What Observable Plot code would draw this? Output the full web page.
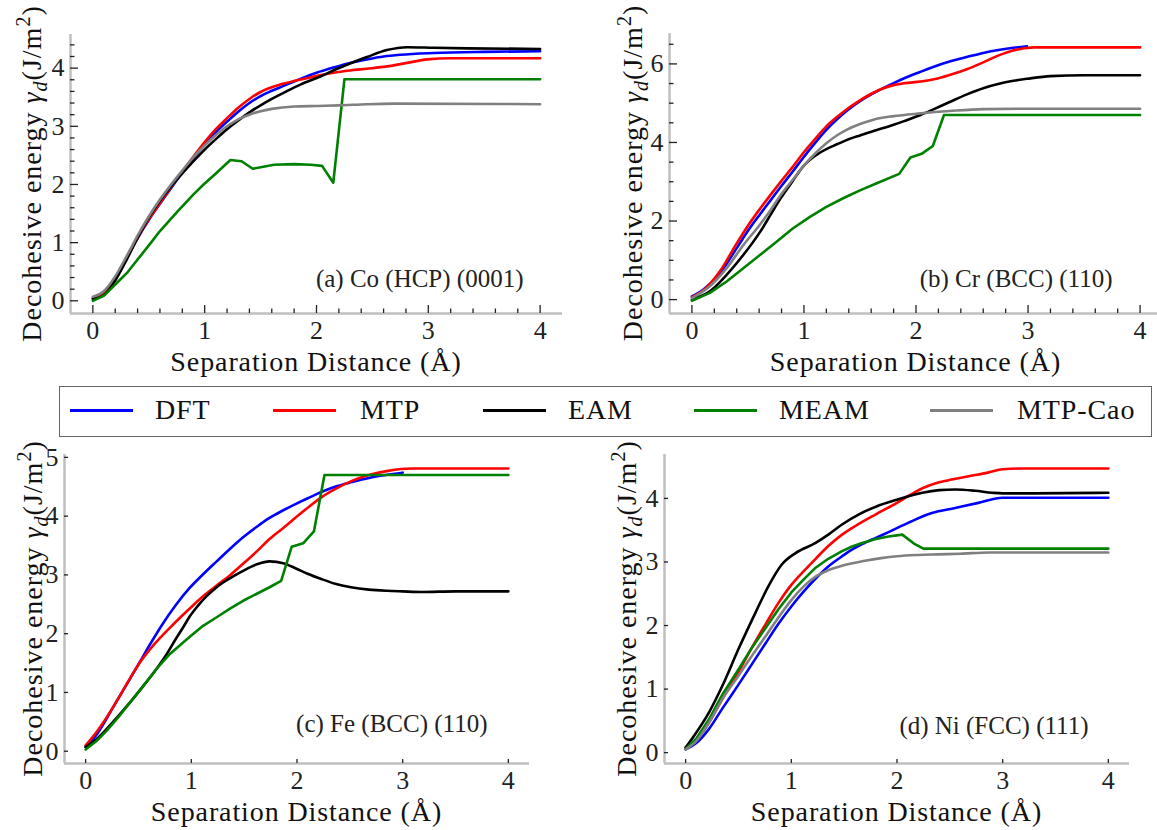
<!DOCTYPE html>
<html>
<head>
<meta charset="utf-8">
<script src="https://cdn.jsdelivr.net/npm/d3@7"></script>
<script src="https://cdn.jsdelivr.net/npm/@observablehq/plot@0.6"></script>
<style>
html, body { margin: 0; padding: 0; width: 1157px; height: 830px; overflow: hidden; background: #fff; }
body { position: relative; font-family: "Liberation Serif", "DejaVu Serif", serif; color: #111; }
.panel { position: absolute; }
.panel svg { max-width: none !important; display: block; }
#legend { position: absolute; left: 59px; top: 386px; width: 1093px; height: 51px; border: 1.5px solid #666; box-sizing: border-box; }
.lg-line { position: absolute; height: 3px; }
.lg-text { position: absolute; font-size: 28px; letter-spacing: 0.9px; line-height: 1; transform: translateY(-50%); white-space: nowrap; }
</style>
</head>
<body>
<div id="pa" class="panel" style="left:0px;top:0px;"></div>
<div id="pb" class="panel" style="left:580px;top:0px;"></div>
<div id="pc" class="panel" style="left:0px;top:380px;"></div>
<div id="pd" class="panel" style="left:580px;top:380px;"></div>
<div id="legend"></div>
<script>
// ---------------- data ----------------
const seriesNames = ["DFT", "MTP", "EAM", "MEAM", "MTP-Cao"];
const seriesColors = ["#0000ff", "#ff0000", "#000000", "#008000", "#808080"];
const xTicks = [0, 1, 2, 3, 4];
const xLabel = "Separation Distance (Å)";
const panelLabels = ["(a) Co (HCP) (0001)", "(b) Cr (BCC) (110)", "(c) Fe (BCC) (110)", "(d) Ni (FCC) (111)"];
const yTicksA = [0, 1, 2, 3, 4];
const yTicksB = [0, 2, 4, 6];
const yTicksC = [0, 1, 2, 3, 4, 5];
const yTicksD = [0, 1, 2, 3, 4];

// (a) Co (HCP) (0001)
const coDFT = [[0,0.05],[0.1,0.14],[0.2,0.4],[0.3,0.74],[0.4,1.08],[0.5,1.39],[0.6,1.67],[0.7,1.94],[0.8,2.2],[0.9,2.45],[1.0,2.69],[1.1,2.9],[1.2,3.08],[1.3,3.25],[1.4,3.4],[1.5,3.52],[1.6,3.61],[1.7,3.69],[1.8,3.77],[1.9,3.85],[2.0,3.92],[2.15,4.01],[2.3,4.09],[2.45,4.15],[2.6,4.2],[2.75,4.23],[3.05,4.26],[3.5,4.28],[4.0,4.29]];
const coMTP = [[0,0.04],[0.1,0.13],[0.2,0.38],[0.3,0.72],[0.4,1.08],[0.5,1.4],[0.6,1.68],[0.7,1.96],[0.8,2.22],[0.9,2.48],[1.0,2.73],[1.1,2.95],[1.2,3.14],[1.3,3.32],[1.4,3.47],[1.5,3.59],[1.6,3.67],[1.7,3.73],[1.8,3.78],[1.9,3.82],[2.04,3.88],[2.15,3.92],[2.3,3.96],[2.45,3.99],[2.63,4.03],[2.81,4.09],[2.99,4.15],[3.2,4.17],[4.0,4.17]];
const coEAM = [[0,0.03],[0.1,0.1],[0.2,0.35],[0.3,0.7],[0.4,1.08],[0.5,1.43],[0.6,1.72],[0.7,1.97],[0.8,2.19],[0.9,2.4],[1.0,2.6],[1.1,2.78],[1.2,2.95],[1.3,3.1],[1.4,3.24],[1.5,3.36],[1.6,3.47],[1.74,3.61],[1.86,3.72],[2.04,3.86],[2.15,3.96],[2.3,4.08],[2.45,4.19],[2.63,4.31],[2.81,4.36],[3.05,4.35],[3.35,4.34],[4.0,4.33]];
const coMEAM = [[0,0.0],[0.1,0.09],[0.2,0.28],[0.31,0.49],[0.4,0.71],[0.52,1.0],[0.6,1.2],[0.76,1.54],[0.9,1.83],[0.99,2.0],[1.1,2.19],[1.23,2.42],[1.33,2.4],[1.43,2.27],[1.62,2.34],[1.8,2.35],[1.95,2.34],[2.05,2.32],[2.15,2.03],[2.25,3.81],[4.0,3.81]];
const coCao = [[0,0.07],[0.1,0.17],[0.2,0.42],[0.3,0.76],[0.4,1.12],[0.5,1.45],[0.6,1.74],[0.7,2.0],[0.8,2.24],[0.9,2.47],[1.0,2.67],[1.1,2.85],[1.2,3.0],[1.3,3.12],[1.4,3.2],[1.5,3.26],[1.6,3.3],[1.8,3.34],[2.0,3.35],[2.2,3.36],[2.45,3.38],[2.7,3.39],[4.0,3.38]];

// (b) Cr (BCC) (110)
const crDFT = [[0,0.08],[0.1,0.25],[0.25,0.67],[0.4,1.31],[0.5,1.75],[0.61,2.18],[0.7,2.52],[0.79,2.86],[0.9,3.26],[0.99,3.6],[1.1,3.99],[1.2,4.32],[1.3,4.6],[1.38,4.8],[1.5,5.05],[1.65,5.3],[1.8,5.51],[1.9,5.64],[2.04,5.8],[2.16,5.93],[2.3,6.06],[2.46,6.18],[2.6,6.28],[2.75,6.36],[2.87,6.41],[2.99,6.45]];
const crMTP = [[0,0.06],[0.1,0.23],[0.25,0.72],[0.4,1.43],[0.5,1.88],[0.61,2.32],[0.7,2.66],[0.79,2.99],[0.9,3.38],[0.99,3.72],[1.1,4.09],[1.2,4.41],[1.3,4.66],[1.38,4.84],[1.5,5.07],[1.6,5.24],[1.68,5.35],[1.8,5.46],[1.9,5.51],[2.04,5.55],[2.16,5.61],[2.3,5.72],[2.46,5.87],[2.6,6.04],[2.75,6.23],[2.85,6.33],[2.93,6.38],[3.05,6.42],[4.0,6.42]];
const crEAM = [[0,0.0],[0.16,0.21],[0.31,0.63],[0.46,1.14],[0.61,1.73],[0.7,2.15],[0.79,2.57],[0.9,3.02],[0.99,3.38],[1.1,3.66],[1.2,3.83],[1.3,3.96],[1.38,4.06],[1.5,4.18],[1.62,4.29],[1.8,4.45],[1.9,4.55],[2.04,4.7],[2.16,4.85],[2.3,5.03],[2.46,5.23],[2.6,5.38],[2.75,5.5],[2.87,5.57],[2.99,5.62],[3.2,5.69],[3.5,5.71],[4.0,5.71]];
const crMEAM = [[0,-0.03],[0.16,0.17],[0.31,0.46],[0.45,0.78],[0.61,1.14],[0.75,1.46],[0.9,1.81],[1.05,2.1],[1.2,2.36],[1.35,2.58],[1.5,2.78],[1.65,2.96],[1.85,3.2],[1.95,3.62],[2.05,3.71],[2.15,3.91],[2.25,4.7],[4.0,4.7]];
const crCao = [[0,0.04],[0.16,0.34],[0.31,0.8],[0.46,1.39],[0.61,1.92],[0.7,2.27],[0.79,2.65],[0.9,3.05],[0.99,3.38],[1.1,3.72],[1.2,3.98],[1.3,4.19],[1.38,4.32],[1.5,4.47],[1.62,4.58],[1.8,4.67],[2.04,4.74],[2.3,4.8],[2.6,4.85],[3.0,4.86],[4.0,4.86]];

// (c) Fe (BCC) (110)
const feDFT = [[0,0.07],[0.1,0.27],[0.2,0.56],[0.29,0.84],[0.4,1.17],[0.51,1.51],[0.62,1.85],[0.73,2.17],[0.85,2.48],[0.98,2.77],[1.1,2.99],[1.24,3.23],[1.37,3.45],[1.49,3.64],[1.62,3.82],[1.74,3.97],[1.87,4.1],[1.99,4.21],[2.12,4.32],[2.23,4.41],[2.36,4.5],[2.52,4.58],[2.68,4.65],[2.84,4.7],[3.0,4.74]];
const feMTP = [[0,0.1],[0.1,0.32],[0.2,0.58],[0.29,0.84],[0.4,1.18],[0.51,1.5],[0.64,1.8],[0.83,2.16],[0.98,2.42],[1.1,2.62],[1.24,2.82],[1.37,3.0],[1.49,3.19],[1.62,3.4],[1.74,3.61],[1.87,3.8],[1.99,3.98],[2.12,4.17],[2.23,4.32],[2.36,4.46],[2.52,4.6],[2.68,4.7],[2.86,4.77],[3.08,4.81],[4.0,4.81]];
const feEAM = [[0,0.07],[0.1,0.2],[0.2,0.38],[0.31,0.6],[0.42,0.83],[0.55,1.12],[0.67,1.4],[0.77,1.66],[0.86,1.93],[0.93,2.13],[0.98,2.28],[1.06,2.47],[1.14,2.63],[1.22,2.76],[1.3,2.87],[1.4,2.98],[1.49,3.07],[1.62,3.18],[1.74,3.23],[1.87,3.2],[1.99,3.11],[2.1,3.02],[2.23,2.93],[2.36,2.85],[2.51,2.79],[2.68,2.75],[2.85,2.73],[3.0,2.72],[3.18,2.71],[3.5,2.72],[4.0,2.72]];
const feMEAM = [[0,0.03],[0.1,0.17],[0.2,0.35],[0.31,0.58],[0.42,0.83],[0.55,1.12],[0.67,1.4],[0.8,1.66],[0.98,1.94],[1.1,2.12],[1.24,2.28],[1.37,2.43],[1.49,2.56],[1.62,2.68],[1.74,2.79],[1.85,2.9],[1.95,3.48],[2.06,3.54],[2.16,3.74],[2.26,4.7],[4.0,4.7]];

// (d) Ni (FCC) (111)
const niDFT = [[0,0.05],[0.1,0.15],[0.22,0.37],[0.35,0.7],[0.5,1.07],[0.63,1.4],[0.76,1.73],[0.88,2.03],[1.0,2.3],[1.12,2.54],[1.23,2.74],[1.35,2.93],[1.48,3.09],[1.57,3.19],[1.67,3.28],[1.8,3.38],[1.92,3.47],[2.11,3.62],[2.33,3.77],[2.55,3.85],[2.77,3.93],[3.0,4.01],[4.0,4.01]];
const niMTP = [[0,0.08],[0.1,0.2],[0.22,0.47],[0.35,0.85],[0.5,1.27],[0.63,1.66],[0.76,2.03],[0.88,2.36],[1.0,2.64],[1.12,2.86],[1.23,3.05],[1.35,3.25],[1.48,3.43],[1.61,3.57],[1.8,3.75],[2.0,3.93],[2.12,4.05],[2.24,4.16],[2.39,4.25],[2.53,4.3],[2.68,4.35],[2.87,4.41],[3.0,4.46],[3.18,4.47],[4.0,4.47]];
const niEAM = [[0,0.08],[0.09,0.29],[0.22,0.63],[0.35,1.06],[0.5,1.63],[0.66,2.2],[0.79,2.64],[0.91,2.96],[1.04,3.14],[1.23,3.3],[1.35,3.43],[1.48,3.59],[1.64,3.75],[1.8,3.87],[2.0,3.98],[2.24,4.09],[2.4,4.13],[2.55,4.14],[2.74,4.12],[2.9,4.09],[3.0,4.08],[3.3,4.08],[4.0,4.09]];
const niMEAM = [[0,0.06],[0.1,0.22],[0.22,0.52],[0.35,0.92],[0.5,1.31],[0.63,1.66],[0.76,1.97],[0.88,2.26],[1.0,2.52],[1.12,2.73],[1.23,2.91],[1.35,3.05],[1.48,3.17],[1.57,3.24],[1.67,3.3],[1.8,3.36],[1.92,3.4],[2.05,3.43],[2.16,3.29],[2.25,3.21],[4.0,3.21]];
const niCao = [[0,0.05],[0.1,0.18],[0.22,0.47],[0.35,0.85],[0.5,1.21],[0.63,1.53],[0.76,1.84],[0.88,2.13],[1.0,2.4],[1.12,2.62],[1.23,2.77],[1.35,2.87],[1.48,2.94],[1.67,3.01],[1.85,3.06],[2.0,3.09],[2.2,3.11],[2.39,3.12],[2.6,3.13],[2.87,3.15],[4.0,3.15]];

// ---------------- drawing ----------------
const FONT = '"Liberation Serif", "DejaVu Serif", serif';
const colorOf = Object.fromEntries(seriesNames.map((n, i) => [n, seriesColors[i]]));

function drawPanel(cfg) {
  const {el, width, height, ml, mr, mt, mb, series, yTicks, yMinorStep, tickLen, minorLen, annot, adx, ady, xPad, yPad, ylabX} = cfg;
  const rows = series.flatMap(([name, pts]) => pts.map(([x, y]) => ({x, y, name})));
  const xe = d3.extent(rows, d => d.x), ye = d3.extent(rows, d => d.y);
  const xp = (xe[1] - xe[0]) * 0.05, yp = (ye[1] - ye[0]) * 0.05;
  const xDom = [xe[0] - xp, xe[1] + xp], yDom = [ye[0] - yp, ye[1] + yp];
  const fw = width - ml - mr, fh = height - mt - mb;
  const isMajor = (v, ticks) => ticks.some(t => Math.abs(t - v) < 1e-6);
  const xMinor = minorLen ? d3.range(0, xDom[1], 0.2).filter(v => !isMajor(v, xTicks)) : [];
  const yMinor = minorLen ? d3.range(0, yDom[1], yMinorStep).filter(v => !isMajor(v, yTicks)) : [];
  const tickStyle = {stroke: "#222", strokeWidth: 1.3};
  const fmt = d => String(d);
  const marks = [
    Plot.ruleY([yDom[0]], {stroke: "#bfbfbf", strokeWidth: 2.5}),
    Plot.ruleX([xDom[0]], {stroke: "#bfbfbf", strokeWidth: 2.5}),
    Plot.ruleX(xTicks, {insetTop: fh - tickLen, ...tickStyle}),
    Plot.ruleY(yTicks, {insetRight: fw - tickLen, ...tickStyle}),
  ];
  if (minorLen) {
    marks.push(Plot.ruleX(xMinor, {insetTop: fh - minorLen, ...tickStyle}));
    marks.push(Plot.ruleY(yMinor, {insetRight: fw - minorLen, ...tickStyle}));
  }
  marks.push(
    Plot.axisX(xTicks, {tickSize: 0, tickPadding: xPad, fontSize: 26, label: null, color: "#222", tickFormat: fmt}),
    Plot.axisY(yTicks, {tickSize: 0, tickPadding: yPad, fontSize: 26, label: null, color: "#222", tickFormat: fmt})
  );
  for (const [name, pts] of series) {
    marks.push(Plot.line(pts.map(([x, y]) => ({x, y})), {
      x: "x", y: "y", stroke: colorOf[name], strokeWidth: 2.6,
      curve: name === "MEAM" ? "linear" : "monotone-x", strokeLinejoin: "round"
    }));
  }
  marks.push(Plot.text([annot], {text: d => d, frameAnchor: "bottom-right", textAnchor: "end", lineAnchor: "middle", dx: adx, dy: ady, fontSize: 25, fill: "#222"}));

  const svg = Plot.plot({
    width, height, marginLeft: ml, marginRight: mr, marginTop: mt, marginBottom: mb,
    x: {domain: xDom}, y: {domain: yDom},
    style: {fontFamily: FONT, background: "transparent", overflow: "visible", maxWidth: "none"},
    marks
  });
  const s = d3.select(svg);
  s.append("text")
    .attr("x", ml + fw / 2).attr("y", mt + fh + 58)
    .attr("text-anchor", "middle")
    .style("font-family", FONT).style("font-size", "28px").style("letter-spacing", "0.9px")
    .attr("fill", "#111").text(xLabel);
  const t = s.append("text")
    .attr("transform", `translate(${ylabX},${mt + fh / 2}) rotate(-90)`)
    .attr("text-anchor", "middle")
    .style("font-family", FONT).style("font-size", "28px").style("letter-spacing", "1px")
    .attr("fill", "#111");
  t.append("tspan").text("Decohesive energy ");
  t.append("tspan").attr("font-style", "italic").text("γ");
  t.append("tspan").attr("font-style", "italic").attr("font-size", "20px").attr("dy", 6).text("d");
  t.append("tspan").attr("dy", -6).text("(J/m");
  t.append("tspan").attr("font-size", "20px").attr("dy", -11).text("2");
  t.append("tspan").attr("dy", 11).text(")");
  document.getElementById(el).appendChild(svg);
}

drawPanel({el: "pa", width: 580, height: 380, ml: 70, mr: 18, mt: 34, mb: 67,
  series: [["DFT", coDFT], ["MTP", coMTP], ["EAM", coEAM], ["MEAM", coMEAM], ["MTP-Cao", coCao]],
  yTicks: yTicksA, yMinorStep: 0.2, tickLen: 8, minorLen: 4.5,
  annot: panelLabels[0], adx: -39, ady: -35, xPad: 7, yPad: 6, ylabX: 41});
drawPanel({el: "pb", width: 600, height: 380, ml: 89, mr: 18, mt: 33, mb: 67,
  series: [["DFT", crDFT], ["MTP", crMTP], ["EAM", crEAM], ["MEAM", crMEAM], ["MTP-Cao", crCao]],
  yTicks: yTicksB, yMinorStep: 0.5, tickLen: 8, minorLen: 4.5,
  annot: panelLabels[1], adx: -50, ady: -35, xPad: 7, yPad: 6, ylabX: 62});
drawPanel({el: "pc", width: 580, height: 450, ml: 64, mr: 51, mt: 74, mb: 67,
  series: [["DFT", feDFT], ["MTP", feMTP], ["EAM", feEAM], ["MEAM", feMEAM]],
  yTicks: yTicksC, yMinorStep: 0, tickLen: 4, minorLen: 0,
  annot: panelLabels[2], adx: -42, ady: -40, xPad: 7, yPad: 6, ylabX: 42});
drawPanel({el: "pd", width: 577, height: 450, ml: 84, mr: 28, mt: 74, mb: 67,
  series: [["DFT", niDFT], ["MTP", niMTP], ["EAM", niEAM], ["MEAM", niMEAM], ["MTP-Cao", niCao]],
  yTicks: yTicksD, yMinorStep: 0, tickLen: 4, minorLen: 0,
  annot: panelLabels[3], adx: -41, ady: -38, xPad: 7, yPad: 6, ylabX: 56});

// ---------------- legend ----------------
const legend = document.getElementById("legend");
const lineLeft = [10, 213, 423, 634, 870];
const textLeft = [95, 300, 508, 719, 957];
seriesNames.forEach((name, i) => {
  const ln = document.createElement("div");
  ln.className = "lg-line";
  ln.style.left = lineLeft[i] + "px"; ln.style.width = "63px"; ln.style.top = "21.5px";
  ln.style.background = seriesColors[i];
  legend.appendChild(ln);
  const tx = document.createElement("div");
  tx.className = "lg-text";
  tx.style.left = textLeft[i] + "px"; tx.style.top = "23px";
  tx.textContent = name;
  legend.appendChild(tx);
});
</script>
</body>
</html>
